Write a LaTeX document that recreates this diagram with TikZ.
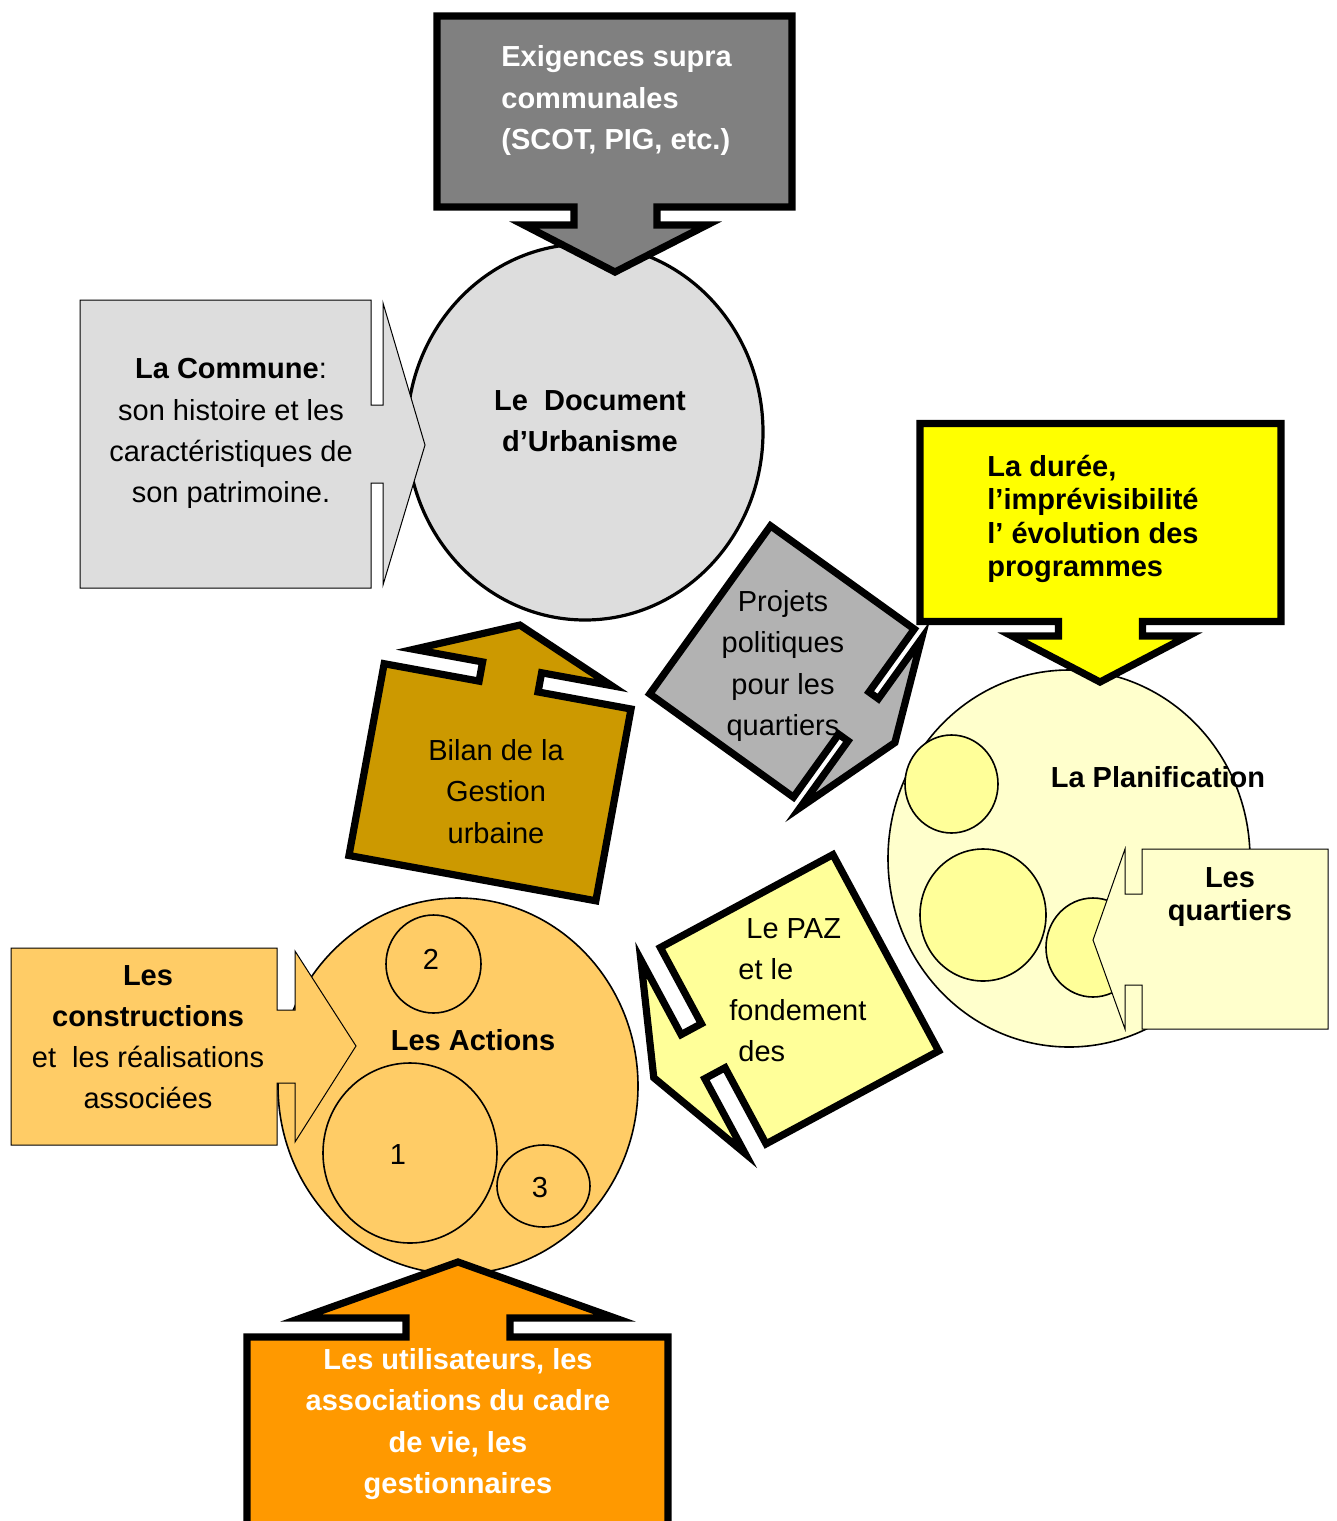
\documentclass[tikz,border=0pt]{standalone}
\usepackage{fontspec}
\setmainfont{Liberation Sans}
\usepackage{tikz}
\newcommand{\bigFont}[0]{\fontsize{14.5}{20.6}\selectfont}
\newcommand{\tightFont}[0]{\fontsize{14.5}{16.6}\selectfont}
\newcommand{\heavyWidth}[0]{3.6pt}
\definecolor{midgrey}{HTML}{808080}
\definecolor{palegrey}{HTML}{DDDDDD}
\definecolor{stonegrey}{HTML}{B2B2B2}
\definecolor{ochre}{HTML}{CC9900}
\definecolor{brightyellow}{HTML}{FFFF00}
\definecolor{creamyellow}{HTML}{FFFFCC}
\definecolor{paleyellow}{HTML}{FFFF99}
\definecolor{lightorange}{HTML}{FFCC66}
\definecolor{deeporange}{HTML}{FF9900}

\begin{document}
\begin{tikzpicture}[x=0.5pt, y=-0.5pt, line join=miter]
  \tikzset{heavy/.style={draw=black, line width=\heavyWidth},
    fineline/.style={draw=black, line width=0.5pt},
    ringline/.style={draw=black, line width=0.8pt},
    txt/.style={inner sep=0pt, align=center, font=\bigFont}}
  \useasboundingbox (0,0) rectangle (1337,1521);
  % le document d'urbanisme
  \draw[fill=palegrey, line width=1.6pt] (585,432) ellipse [x radius=178, y radius=188];
  \draw[fineline, fill=palegrey] (80,300) -- (371,300) -- (371,405) -- (383,405) -- (383,303) -- (425,445)
    -- (383,585) -- (383,483) -- (371,483) -- (371,588) -- (80,588) -- cycle;
  \draw[heavy, fill=midgrey] (437,16) -- (792,16) -- (792,207) -- (657,207) -- (657,225) -- (707,225)
    -- (615,272) -- (524,225) -- (574,225) -- (574,207) -- (437,207) -- cycle;
  % bilan et projets
  \begin{scope}[shift={(490,782.25)}, rotate=-10.4]
    \draw[heavy, fill=ochre] (-125.5,-97.5) -- (-29,-97.5) -- (-29,-117) -- (-99,-117) -- (1,-160)
      -- (102,-117) -- (31,-117) -- (31,-97.5) -- (125.5,-97.5) -- (125.5,97.5) -- (-125.5,97.5) -- cycle;
  \end{scope}
  \begin{scope}[shift={(782,661.5)}, rotate=-35.7]
    \draw[heavy, fill=stonegrey] (-88.5,-103.5) -- (88.5,-103.5) -- (88.5,-26) -- (100,-26) -- (100,-100)
      -- (139,0) -- (100,108) -- (100,26) -- (88.5,26) -- (88.5,103.5) -- (-88.5,103.5) -- cycle;
  \end{scope}
  % la planification
  \draw[ringline, fill=creamyellow] (1069,858.5) ellipse [x radius=181, y radius=188.5];
  \draw[ringline, fill=paleyellow] (951.5,784) ellipse [x radius=46.5, y radius=49];
  \draw[ringline, fill=paleyellow] (983,915) ellipse [x radius=63, y radius=66];
  \draw[ringline, fill=paleyellow] (1093,947.5) ellipse [x radius=47, y radius=49.5];
  \draw[fineline, fill=creamyellow] (1328,849) -- (1142,849) -- (1142,894) -- (1125,894) -- (1125,849)
    -- (1093,940) -- (1125,1029) -- (1125,985) -- (1142,985) -- (1142,1029) -- (1328,1029) -- cycle;
  \draw[heavy, fill=brightyellow] (920,423.5) -- (1281,423.5) -- (1281,621.5) -- (1142.5,621.5) -- (1142.5,636)
    -- (1188,636) -- (1100,682) -- (1012,636) -- (1058.5,636) -- (1058.5,621.5) -- (920,621.5) -- cycle;
  \begin{scope}[shift={(799.5,999.25)}, rotate=28.3]
    \draw[heavy, fill=paleyellow] (98,-111.5) -- (98,111.5) -- (-98,111.5) -- (-98,25) -- (-121,25) -- (-121,110)
      -- (-165.5,0) -- (-121,-110) -- (-121,-25) -- (-98,-25) -- (-98,-111.5) -- cycle;
  \end{scope}
  % les actions
  \draw[ringline, fill=lightorange] (458,1086) ellipse [x radius=180, y radius=188];
  \draw[ringline, fill=lightorange] (433.5,964) ellipse [x radius=47.5, y radius=49];
  \draw[ringline, fill=lightorange] (410,1153) ellipse [x radius=87, y radius=90];
  \draw[ringline, fill=lightorange] (543.5,1186) ellipse [x radius=46.5, y radius=41];
  \draw[fineline, fill=lightorange] (11,948) -- (277,948) -- (277,1010) -- (295,1010) -- (295,951) -- (356,1046)
    -- (295,1142) -- (295,1083) -- (277,1083) -- (277,1145) -- (11,1145) -- cycle;
  \draw[heavy, fill=deeporange] (247,1535) -- (247,1337) -- (406,1337) -- (406,1318) -- (301,1318) -- (458,1262)
    -- (615,1318) -- (510,1318) -- (510,1337) -- (668,1337) -- (668,1535) -- cycle;
  % textes
  \node[txt, white, font=\bigFont\bfseries, align=left, anchor=west] (exigences) at (501,100.5)
    {Exigences supra\\communales\\(SCOT, PIG, etc.)};
  \node[txt, font=\bigFont\bfseries] (document) at (590,421) {Le\ \ Document\\d’Urbanisme};
  \node[txt] (commune) at (231,433.5)
    {\textbf{La Commune}:\\son histoire et les\\caractéristiques de\\son patrimoine.};
  \node[txt] (projets) at (783,666) {Projets\\politiques\\pour les\\quartiers};
  \node[txt] (bilan) at (496,791.5) {Bilan de la\\Gestion\\urbaine};
  \node[txt, font=\tightFont\bfseries, align=left, anchor=west] (duree) at (987,519)
    {La durée,\\l’imprévisibilité\\l’ évolution des\\programmes};
  \node[txt, font=\bigFont\bfseries] (planif) at (1158,777) {La Planification};
  \node[txt, font=\tightFont\bfseries] (quartiers) at (1230,897) {Les\\quartiers};
  \node[txt, align=left, anchor=west] (paz) at (729,990)
    {\hspace*{8.5pt}Le PAZ\\\hspace*{4.5pt}et le\\fondement\\\hspace*{4.5pt}des};
  \node[txt, font=\bigFont\bfseries] (actions) at (473,1040) {Les Actions};
  \node[txt] (two) at (431,959) {2};
  \node[txt] (one) at (398,1155) {1};
  \node[txt] (three) at (540,1188) {3};
  \node[txt] (constr) at (148,1037)
    {\textbf{Les}\\\textbf{constructions}\\et\ \ les réalisations\\associées};
  \node[txt, white, font=\bigFont\bfseries] (usagers) at (458,1424)
    {Les utilisateurs, les\\associations du cadre\\de vie, les\\gestionnaires};
\end{tikzpicture}
\end{document}
